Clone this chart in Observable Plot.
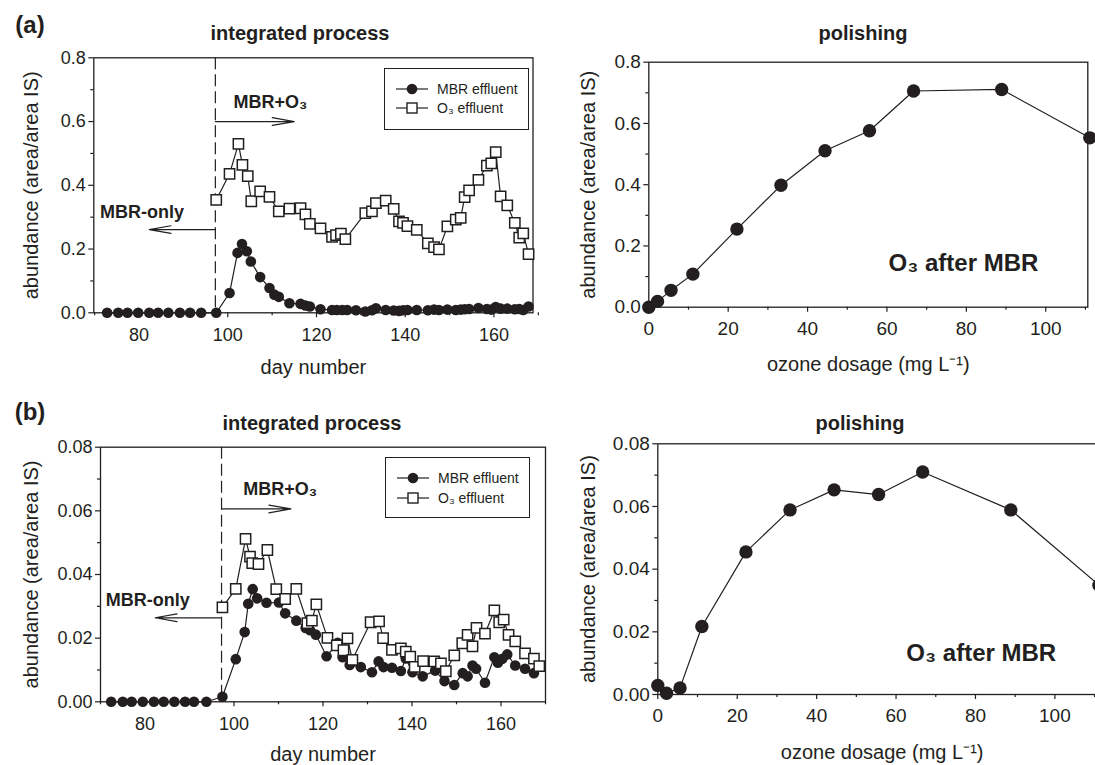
<!DOCTYPE html>
<html><head><meta charset="utf-8">
<script src="https://cdn.jsdelivr.net/npm/d3@7"></script>
<script src="https://cdn.jsdelivr.net/npm/@observablehq/plot@0.6"></script>
<style>
html,body{margin:0;padding:0;background:#fff;overflow:hidden;}
#wrap{position:relative;width:1095px;height:765px;overflow:hidden;font-family:"Liberation Sans",Arial,sans-serif;color:#231f20;}
.panel{position:absolute;}
.ttl{position:absolute;font-weight:bold;font-size:20px;white-space:nowrap;transform:translate(-50%,-50%);}
.tag{position:absolute;font-weight:bold;font-size:24px;white-space:nowrap;transform:translate(-50%,-50%);}
.legend{position:absolute;border:1.5px solid #231f20;box-sizing:border-box;font-size:14px;background:#fff;}
.legend .row{position:absolute;left:0;display:flex;align-items:center;white-space:nowrap;transform:translateY(-50%);}
.legend svg{display:block;}
</style>
</head><body>
<div id="wrap"></div>
<script>
// ---------- data ----------
// (a) integrated process
const dayMbrA = [72.8,75.3,77.4,79.8,82.3,84.3,86.6,89.2,91.5,94.0,97.4,
  100.4,102.2,103.2,104.3,105.2,107.3,109.4,110.5,111.5,113.9,116.4,117.5,118.5,120.9,123.5,124.6,125.8,126.9,128.9,
  131.0,132.5,133.4,135.6,137.4,138.6,139.5,140.5,142.6,145.1,146.5,147.6,149.5,151.4,152.5,153.4,154.4,156.5,158.4,
  159.4,160.4,161.5,163.0,164.7,165.7,166.6,167.8];
const mbrA = [0,0,0,0,0,0,0,0,0,0,0,
  0.062,0.188,0.216,0.193,0.161,0.112,0.078,0.057,0.050,0.030,0.028,0.023,0.020,0.011,0.009,0.009,0.009,0.009,0.008,
  0.004,0.008,0.014,0.009,0.007,0.006,0.008,0.009,0.009,0.008,0.010,0.009,0.010,0.009,0.010,0.011,0.012,0.015,0.012,
  0.010,0.018,0.013,0.013,0.011,0.012,0.009,0.020];
const dayO3A = [97.4,100.4,102.4,103.3,104.5,105.3,107.3,109.4,111.5,113.9,116.4,117.5,118.5,120.9,123.5,124.4,125.5,126.5,
  131.0,132.5,133.4,135.6,137.4,138.6,139.5,140.5,142.6,145.1,146.5,147.6,149.5,151.4,152.5,153.4,154.4,156.5,158.4,
  159.4,160.4,161.5,163.0,164.7,165.7,166.6,167.8];
const o3A = [0.354,0.436,0.530,0.464,0.429,0.350,0.381,0.364,0.318,0.327,0.328,0.309,0.279,0.265,0.238,0.244,0.248,0.231,
  0.313,0.318,0.344,0.352,0.326,0.287,0.282,0.272,0.260,0.218,0.206,0.199,0.271,0.292,0.298,0.363,0.384,0.417,0.462,
  0.469,0.504,0.365,0.337,0.282,0.236,0.249,0.184];
// (b) integrated process
const dayMbrB = [72.4,75.0,77.0,79.5,82.0,84.2,86.6,89.0,91.0,93.8,97.4,
  100.4,102.4,103.2,104.2,105.2,107.3,110.1,111.5,114.0,116.1,117.1,118.4,120.8,123.3,124.4,126.0,128.5,
  131.0,132.5,133.6,135.5,137.5,138.6,140.1,142.4,145.2,147.3,149.5,151.4,152.5,153.6,154.4,156.4,158.5,
  159.3,160.3,161.4,163.2,165.4,167.4];
const mbrB = [0,0,0,0,0,0,0,0,0,0,0.0016,
  0.0134,0.0219,0.0308,0.0354,0.0325,0.0311,0.0312,0.0278,0.0255,0.0232,0.0225,0.0211,0.0143,0.0185,0.0140,0.0116,0.0109,
  0.0093,0.0127,0.0109,0.0107,0.0097,0.0136,0.0093,0.0080,0.0098,0.0065,0.0053,0.0090,0.0080,0.0114,0.0104,0.0060,0.0140,
  0.0123,0.0135,0.0149,0.0114,0.0104,0.0090];
const dayO3B = [97.4,100.4,102.6,103.6,104.1,105.5,107.5,109.5,111.5,114.0,116.5,117.5,118.5,121.0,123.1,124.6,125.5,126.6,
  130.7,132.6,133.5,135.5,137.5,138.6,139.6,140.6,142.5,145.0,146.5,147.6,149.5,151.3,152.5,153.6,154.5,156.4,158.5,
  159.6,160.6,161.7,163.2,165.4,167.4,168.6];
const o3B = [0.0297,0.0355,0.0512,0.0456,0.0436,0.0433,0.0477,0.0354,0.0323,0.0355,0.0247,0.0255,0.0306,0.0201,0.0177,0.0162,0.0199,0.0132,
  0.0250,0.0253,0.0200,0.0163,0.0168,0.0158,0.0142,0.0110,0.0128,0.0127,0.0121,0.0096,0.0146,0.0184,0.0210,0.0174,0.0232,0.0214,0.0287,
  0.0250,0.0258,0.0210,0.0190,0.0152,0.0136,0.0112];
// polishing
const dosage = [0, 2.2, 5.6, 11.1, 22.2, 33.3, 44.4, 55.6, 66.7, 88.9, 111.1];
const polishA = [0.000, 0.019, 0.055, 0.108, 0.255, 0.398, 0.511, 0.576, 0.706, 0.711, 0.553];
const polishB = [0.0029, 0.0004, 0.0021, 0.0217, 0.0455, 0.0589, 0.0653, 0.0638, 0.0710, 0.0589, 0.0349];

// ticks
const dayTicks = [80, 100, 120, 140, 160];
const dayMinor = [70, 90, 110, 130, 150, 170];
const doseTicks = [0, 20, 40, 60, 80, 100];
const doseMinor = [10, 30, 50, 70, 90, 110];
const yTicksA = [0, 0.2, 0.4, 0.6, 0.8];
const yMinorA = [0.1, 0.3, 0.5, 0.7];
const yTicksB = [0, 0.02, 0.04, 0.06, 0.08];
const yMinorB = [0.01, 0.03, 0.05, 0.07];

// annotations
const switchDay = [97.2];
const arrowsA = [{x1: 97.2, y1: 0.6, x2: 115, y2: 0.6}, {x1: 97.2, y1: 0.261, x2: 82.3, y2: 0.261}];
const arrowsB = [{x1: 97.2, y1: 0.0606, x2: 112.8, y2: 0.0606}, {x1: 97.2, y1: 0.0264, x2: 82.3, y2: 0.0264}];
const notesA = [{x: 101.3, y: 0.662, t: "MBR+O\u2083"}, {x: 71.2, y: 0.316, t: "MBR-only"}];
const notesB = [{x: 102.1, y: 0.0669, t: "MBR+O\u2083"}, {x: 71.2, y: 0.0318, t: "MBR-only"}];
const noteA2 = [{x: 60.4, y: 0.143, t: "O\u2083 after MBR"}];
const noteB2 = [{x: 62.6, y: 0.013, t: "O\u2083 after MBR"}];

const ink = "#231f20";
const FONT = '"Liberation Sans", Arial, sans-serif';
const yLab = "abundance (area/area IS)";

const zip = (xs, ys) => xs.map((x, i) => ({x, y: ys[i]}));

function axes(o) {
  return [
    Plot.frame({stroke: ink, strokeWidth: 1.3}),
    Plot.axisX({ticks: o.xTicks, tickSize: 5, tickPadding: o.xPad, tickFormat: d => String(d), fontSize: o.tickFont, label: null, strokeWidth: 1.2}),
    Plot.axisX({ticks: o.xMinor, tickSize: 3, tickFormat: () => "", label: null, strokeWidth: 1.2}),
    Plot.axisX({ticks: [], label: o.xLabel, labelAnchor: "center", labelArrow: "none", labelOffset: o.xLabelOffset, fontSize: o.labelFont}),
    Plot.axisY({ticks: o.yTicks, tickSize: 5, tickPadding: 3, tickFormat: d3.format(o.yFmt), fontSize: o.tickFont, label: null, strokeWidth: 1.2}),
    Plot.axisY({ticks: o.yMinor, tickSize: 3, tickFormat: () => "", label: null, strokeWidth: 1.2}),
    Plot.axisY({ticks: [], label: yLab, labelAnchor: "center", labelArrow: "none", labelOffset: o.yLabelOffset, fontSize: o.labelFont})
  ];
}

function makePlot(o) {
  return Plot.plot({
    width: o.width, height: o.height,
    marginLeft: o.ml, marginRight: o.mr, marginTop: o.mt, marginBottom: o.mb,
    x: {domain: o.xDomain, label: null},
    y: {domain: o.yDomain, label: null},
    style: {background: "transparent", fontFamily: FONT, color: ink, overflow: "visible"},
    marks: [...axes(o), ...o.marks]
  });
}

function place(node, left, top, w) {
  const d = document.createElement("div");
  d.className = "panel";
  d.style.left = left + "px"; d.style.top = top + "px"; d.style.width = w + "px";
  node.style.maxWidth = "none";
  d.appendChild(node);
  document.getElementById("wrap").appendChild(d);
}

function seriesMarks(mbr, o3, r, sq) {
  return [
    Plot.line(mbr, {x: "x", y: "y", stroke: ink, strokeWidth: 1.2}),
    Plot.dot(mbr, {x: "x", y: "y", r: r, fill: ink, stroke: "none"}),
    Plot.line(o3, {x: "x", y: "y", stroke: ink, strokeWidth: 1.2}),
    Plot.dot(o3, {x: "x", y: "y", r: sq, symbol: "square", fill: "white", stroke: ink, strokeWidth: 1.5})
  ];
}

function annot(arrows, notes) {
  return [
    Plot.ruleX(switchDay, {stroke: ink, strokeWidth: 1.2, strokeDasharray: "12,5"}),
    Plot.arrow(arrows, {x1: "x1", y1: "y1", x2: "x2", y2: "y2", stroke: ink, strokeWidth: 1.2, headAngle: 20, headLength: 28}),
    Plot.text(notes, {x: "x", y: "y", text: "t", textAnchor: "start", fontWeight: "bold", fontSize: 18, fill: ink})
  ];
}

// (a) left
place(makePlot({
  width: 545, height: 380, ml: 93.3, mr: 12.5, mt: 57.3, mb: 67.7,
  xDomain: [69.8, 168.8], yDomain: [0, 0.8],
  xTicks: dayTicks, xMinor: dayMinor, yTicks: yTicksA, yMinor: yMinorA, yFmt: ".1f",
  xPad: 10, tickFont: 18, labelFont: 20, xLabel: "day number", xLabelOffset: 61, yLabelOffset: 70,
  marks: [...annot(arrowsA, notesA), ...seriesMarks(zip(dayMbrA, mbrA), zip(dayO3A, o3A), 5.3, 5.8)]
}), 0, 0, 545);

// (a) right
place(makePlot({
  width: 535, height: 380, ml: 88.3, mr: 7.7, mt: 61.7, mb: 73.3,
  xDomain: [0, 110.6], yDomain: [0, 0.8],
  xTicks: doseTicks, xMinor: doseMinor, yTicks: yTicksA, yMinor: yMinorA, yFmt: ".1f",
  xPad: 9, tickFont: 19, labelFont: 20, xLabel: "ozone dosage (mg L\u207B\u00B9)", xLabelOffset: 64, yLabelOffset: 68,
  marks: [
    Plot.line(zip(dosage, polishA), {x: "x", y: "y", stroke: ink, strokeWidth: 1.2}),
    Plot.dot(zip(dosage, polishA), {x: "x", y: "y", r: 6.7, fill: ink}),
    Plot.text(noteA2, {x: "x", y: "y", text: "t", textAnchor: "start", fontWeight: "bold", fontSize: 24, fill: ink})
  ]
}), 560, 0, 535);

// (b) left
place(makePlot({
  width: 560, height: 385, ml: 100, mr: 15, mt: 66.7, mb: 63.7,
  xDomain: [70, 170], yDomain: [0, 0.08],
  xTicks: dayTicks, xMinor: dayMinor, yTicks: yTicksB, yMinor: yMinorB, yFmt: ".2f",
  xPad: 10, tickFont: 18, labelFont: 20, xLabel: "day number", xLabelOffset: 59, yLabelOffset: 77,
  marks: [...annot(arrowsB, notesB), ...seriesMarks(zip(dayMbrB, mbrB), zip(dayO3B, o3B), 5.3, 5.8)]
}), 0, 380, 560);

// (b) right (extends past the right edge, as in the reference)
place(makePlot({
  width: 560, height: 385, ml: 97.3, mr: 14, mt: 63.3, mb: 71,
  xDomain: [0, 113], yDomain: [0, 0.08],
  xTicks: doseTicks, xMinor: doseMinor, yTicks: yTicksB, yMinor: yMinorB, yFmt: ".2f",
  xPad: 9, tickFont: 19, labelFont: 20, xLabel: "ozone dosage (mg L\u207B\u00B9)", xLabelOffset: 64, yLabelOffset: 77,
  marks: [
    Plot.line(zip(dosage, polishB), {x: "x", y: "y", stroke: ink, strokeWidth: 1.2}),
    Plot.dot(zip(dosage, polishB), {x: "x", y: "y", r: 6.7, fill: ink}),
    Plot.text(noteB2, {x: "x", y: "y", text: "t", textAnchor: "start", fontWeight: "bold", fontSize: 24, fill: ink})
  ]
}), 560, 380, 560);

// titles
const wrap = document.getElementById("wrap");
function addText(cls, txt, x, y) {
  const d = document.createElement("div");
  d.className = cls; d.textContent = txt;
  d.style.left = x + "px"; d.style.top = y + "px";
  wrap.appendChild(d);
}
addText("tag", "(a)", 30, 25);
addText("tag", "(b)", 30, 412);
addText("ttl", "integrated process", 300, 33);
addText("ttl", "polishing", 863, 33);
addText("ttl", "integrated process", 312, 423);
addText("ttl", "polishing", 860, 423);

// legends
const legendItems = ["MBR effluent", "O\u2083 effluent"];
function legend(left, top, w, h, rows) {
  const box = document.createElement("div");
  box.className = "legend";
  Object.assign(box.style, {left: left + "px", top: top + "px", width: w + "px", height: h + "px"});
  legendItems.forEach((name, i) => {
    const row = document.createElement("div");
    row.className = "row";
    row.style.top = rows[i] + "px";
    row.style.left = "10px";
    const sym = i === 0
      ? `<svg width="34" height="14"><line x1="1" y1="7" x2="33" y2="7" stroke="${ink}" stroke-width="1.2"/><circle cx="17" cy="7" r="5.3" fill="${ink}"/></svg>`
      : `<svg width="34" height="14"><line x1="1" y1="7" x2="33" y2="7" stroke="${ink}" stroke-width="1.2"/><rect x="12" y="2" width="10" height="10" fill="#fff" stroke="${ink}" stroke-width="1.4"/></svg>`;
    row.innerHTML = sym + `<span style="margin-left:8px">${name}</span>`;
    box.appendChild(row);
  });
  wrap.appendChild(box);
}
legend(384, 68, 145, 62, [20, 39]);
legend(385, 457, 145, 61, [20, 40]);
</script>
</body></html>
